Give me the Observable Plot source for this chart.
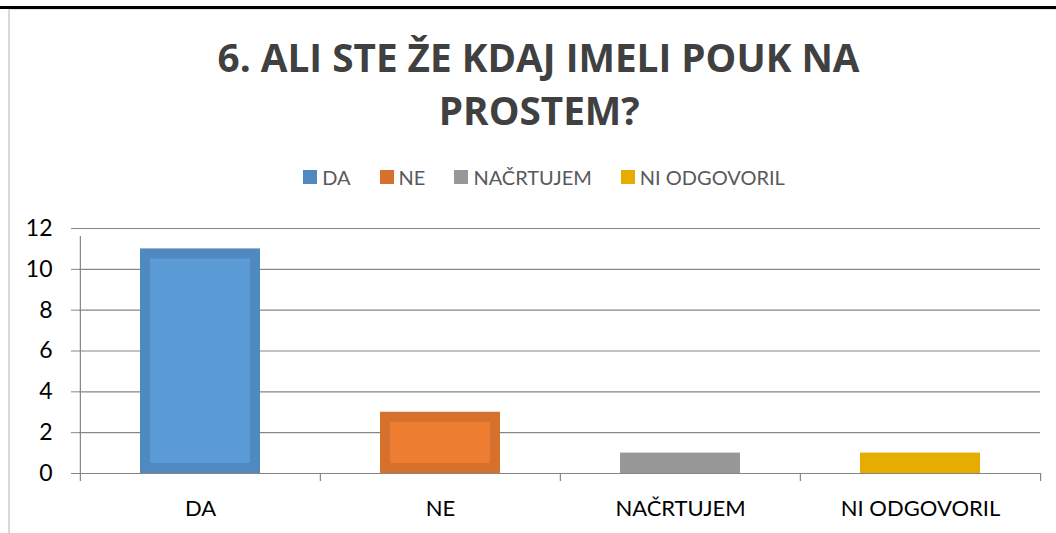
<!DOCTYPE html>
<html><head><meta charset="utf-8">
<script src="https://cdn.jsdelivr.net/npm/d3@7"></script>
<script src="https://cdn.jsdelivr.net/npm/@observablehq/plot@0.6"></script>
<style>
body{margin:0;background:#fff;width:1056px;height:533px;overflow:hidden;position:relative;font-family:Lato,"Open Sans",sans-serif;}
#topline{position:absolute;left:0;top:6px;width:1056px;height:3px;background:#000;}
#frame{position:absolute;left:8px;top:9px;width:1048px;height:524px;border-left:2px solid #d9d9d9;border-top:1px solid #e3e3e3;box-sizing:border-box}
.tline{position:absolute;left:0;width:1078px;text-align:center;font-family:"Open Sans",Lato,sans-serif;font-weight:700;font-size:39px;line-height:39px;color:#404040;white-space:nowrap}
.tline span{display:inline-block;transform-origin:center}
#legend{position:absolute;top:167px;left:0;width:1088px;display:flex;justify-content:center;gap:29px;font-size:20px;color:#595959;line-height:20px}
.item{display:flex;align-items:center;gap:5px}
.sw{width:14px;height:14px;display:inline-block}
#chart{position:absolute;left:0;top:195px}
</style></head>
<body>
<div id="topline"></div>
<div id="frame"></div>
<div class="tline" id="t1" style="top:37px"><span></span></div>
<div class="tline" id="t2" style="top:90px"><span></span></div>
<div id="legend"></div>
<div id="chart"></div>
<script>
const titleLines = ["6. ALI STE ŽE KDAJ IMELI POUK NA", "PROSTEM?"];
const categories = ["DA", "NE", "NAČRTUJEM", "NI ODGOVORIL"];
const counts = [11, 3, 1, 1];
const edgeColors = ["#5089c0", "#d5712c", "#989898", "#e6ad00"];
const fillColors = ["#5b9bd5", "#ed7d31", "#a5a5a5", "#ffc000"];
const yTicks = [0, 2, 4, 6, 8, 10, 12];

const rows = categories.map((c, i) => ({cat: c, value: counts[i], edge: edgeColors[i], inner: fillColors[i]}));

document.querySelector("#t1 span").textContent = titleLines[0];
document.querySelector("#t2 span").textContent = titleLines[1];

const leg = document.getElementById("legend");
categories.forEach((c, i) => {
  const it = document.createElement("div"); it.className = "item";
  const sw = document.createElement("span"); sw.className = "sw"; sw.style.background = edgeColors[i];
  const tx = document.createElement("span"); tx.textContent = c;
  it.append(sw, tx); leg.append(it);
});

const W = 1056, H = 338, ML = 79, MR = 16, MT = 33, MB = 60;
const step = (W - ML - MR) / categories.length;
const axisColor = "#868686";

const chart = Plot.plot({
  width: W, height: H,
  marginTop: MT, marginBottom: MB, marginLeft: ML, marginRight: MR,
  style: {fontFamily: "Lato, 'Open Sans', sans-serif", color: "#000", background: "transparent"},
  x: {domain: categories, paddingInner: 0.5, paddingOuter: 0.25, axis: null, label: null},
  y: {domain: [0, 12], axis: null, label: null},
  marks: [
    Plot.gridY(yTicks, {stroke: axisColor, strokeOpacity: 1, strokeWidth: 1.2}),
    Plot.barY(rows, {x: "cat", y: "value", fill: "edge"}),
    Plot.barY(rows.filter(d => d.value > 1), {x: "cat", y: "value", fill: "inner", inset: 10}),
    Plot.axisY({ticks: yTicks, tickSize: 8, tickPadding: 19, fontSize: 23, stroke: axisColor, fill: "#000", label: null}),
    Plot.axisX({tickSize: 0, tickPadding: 27, fontSize: 22, fill: "#000", label: null}),
    Plot.ruleX(categories, {x: d => d, dx: -step / 2, y1: 0, y2: 0, insetBottom: -8, stroke: axisColor, strokeWidth: 1.2}),
    Plot.ruleX([categories[categories.length - 1]], {x: d => d, dx: step / 2, y1: 0, y2: 0, insetBottom: -8, stroke: axisColor, strokeWidth: 1.2}),
    Plot.ruleX([categories[0]], {x: d => d, dx: -step / 2, y1: 0, y2: 12, insetBottom: -8, stroke: axisColor, strokeWidth: 1.2})
  ]
});
document.getElementById("chart").append(chart);

function fit() {
  const s1 = document.querySelector("#t1 span");
  const s2 = document.querySelector("#t2 span");
  s1.style.transform = ""; s2.style.transform = "";
  const k = 642 / s1.getBoundingClientRect().width;
  s1.style.transform = `scaleX(${k})`;
  s2.style.transform = `scaleX(${k})`;
}
fit();
if (document.fonts && document.fonts.ready) document.fonts.ready.then(fit);
</script>
</body></html>
